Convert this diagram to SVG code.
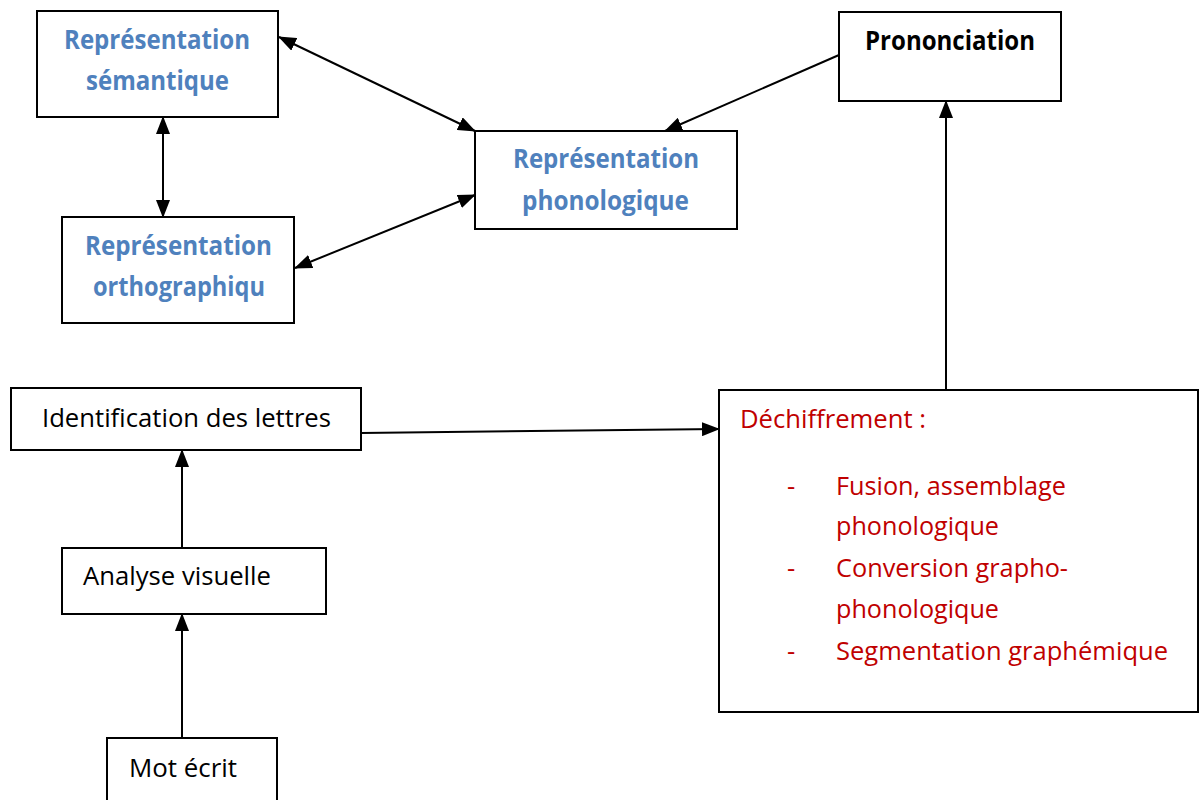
<svg xmlns="http://www.w3.org/2000/svg" width="1199" height="800" viewBox="0 0 1199 800">
<style>
.box{fill:#fff;stroke:#000;stroke-width:2}
.blue{font-family:"Open Sans","Liberation Sans",sans-serif;font-weight:bold;font-size:26px;fill:#4F81BD}
.blk{font-family:"Open Sans","Liberation Sans",sans-serif;font-weight:bold;font-size:26px;fill:#000}
.reg{font-family:"Open Sans","Liberation Sans",sans-serif;font-size:25.5px;fill:#000}
.red{font-family:"Open Sans","Liberation Sans",sans-serif;font-size:25.5px;fill:#C00000}
.con{fill:none;stroke:#000;stroke-width:2}
</style>
<defs>
<marker id="ah" markerUnits="userSpaceOnUse" markerWidth="18" markerHeight="14" refX="17" refY="7" orient="auto-start-reverse" viewBox="0 0 18 14">
<path d="M0,0 L18,7 L0,14 z" fill="#000"/>
</marker>
</defs>
<g id="connectors">
<line class="con" x1="279" y1="37" x2="475" y2="131" marker-start="url(#ah)" marker-end="url(#ah)"/>
<line class="con" x1="163" y1="117" x2="163" y2="217" marker-start="url(#ah)" marker-end="url(#ah)"/>
<line class="con" x1="295" y1="268" x2="475" y2="195" marker-start="url(#ah)" marker-end="url(#ah)"/>
<line class="con" x1="839" y1="55" x2="665" y2="131" marker-end="url(#ah)"/>
<line class="con" x1="946" y1="390" x2="946" y2="101" marker-end="url(#ah)"/>
<line class="con" x1="361" y1="433" x2="719" y2="429" marker-end="url(#ah)"/>
<line class="con" x1="182" y1="548" x2="182" y2="450" marker-end="url(#ah)"/>
<line class="con" x1="182" y1="738" x2="182" y2="614" marker-end="url(#ah)"/>
</g>
<g id="semantique">
<rect class="box" x="37" y="11" width="241" height="106"/>
<text class="blue" x="64" y="49" textLength="186" lengthAdjust="spacingAndGlyphs">Représentation</text>
<text class="blue" x="86" y="90" textLength="143" lengthAdjust="spacingAndGlyphs">sémantique</text>
</g>
<g id="orthographique">
<rect class="box" x="62" y="217" width="232" height="106"/>
<text class="blue" x="85" y="255" textLength="187" lengthAdjust="spacingAndGlyphs">Représentation</text>
<text class="blue" x="93" y="296" textLength="172" lengthAdjust="spacingAndGlyphs">orthographiqu</text>
</g>
<g id="phonologique">
<rect class="box" x="475" y="131" width="262" height="98"/>
<text class="blue" x="513" y="168" textLength="186" lengthAdjust="spacingAndGlyphs">Représentation</text>
<text class="blue" x="522" y="210" textLength="167" lengthAdjust="spacingAndGlyphs">phonologique</text>
</g>
<g id="prononciation">
<rect class="box" x="839" y="12" width="222" height="89"/>
<text class="blk" x="865" y="50" textLength="170" lengthAdjust="spacingAndGlyphs">Prononciation</text>
</g>
<g id="dechiffrement">
<rect class="box" x="719" y="390" width="479" height="322"/>
<text class="red" x="740" y="428" textLength="186" lengthAdjust="spacingAndGlyphs">Déchiffrement :</text>
<text class="red" x="787" y="495">-</text>
<text class="red" x="836" y="495" textLength="230" lengthAdjust="spacingAndGlyphs">Fusion, assemblage</text>
<text class="red" x="836" y="535" textLength="163" lengthAdjust="spacingAndGlyphs">phonologique</text>
<text class="red" x="787" y="577">-</text>
<text class="red" x="836" y="577" textLength="232" lengthAdjust="spacingAndGlyphs">Conversion grapho-</text>
<text class="red" x="836" y="618" textLength="163" lengthAdjust="spacingAndGlyphs">phonologique</text>
<text class="red" x="787" y="660">-</text>
<text class="red" x="836" y="660" textLength="332" lengthAdjust="spacingAndGlyphs">Segmentation graphémique</text>
</g>
<g id="identification">
<rect class="box" x="11" y="388" width="350" height="62"/>
<text class="reg" x="42" y="427" textLength="289" lengthAdjust="spacingAndGlyphs">Identification des lettres</text>
</g>
<g id="analyse">
<rect class="box" x="62" y="548" width="264" height="66"/>
<text class="reg" x="83" y="585" textLength="188" lengthAdjust="spacingAndGlyphs">Analyse visuelle</text>
</g>
<g id="mot">
<rect class="box" x="107" y="738" width="170" height="80"/>
<text class="reg" x="129" y="777" textLength="108" lengthAdjust="spacingAndGlyphs">Mot écrit</text>
</g>
</svg>
